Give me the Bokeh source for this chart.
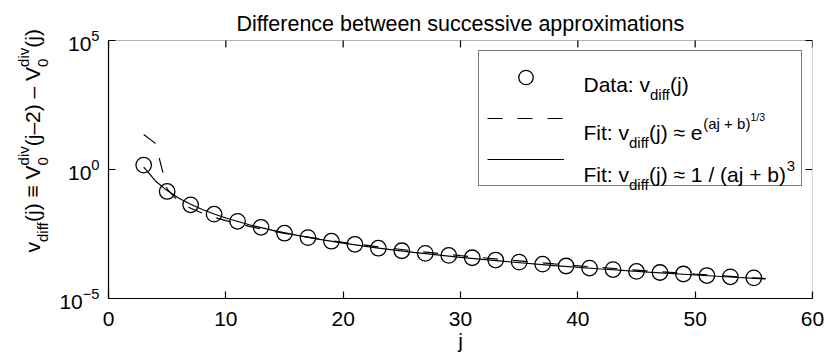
import math
from bokeh.plotting import figure
from bokeh.layouts import row
from bokeh.models import (FixedTicker, Label, Legend, LegendItem,
                          BoxAnnotation)
from bokeh.core.properties import value
from bokeh.embed import file_html
from bokeh.resources import INLINE

# ---------------- data ----------------
j_data = [3, 5, 7, 9, 11, 13, 15, 17, 19, 21, 23, 25, 27, 29, 31, 33, 35,
          37, 39, 41, 43, 45, 47, 49, 51, 53, 55]
v_data = [1.48, 0.141, 0.0427, 0.0186, 0.0098, 0.00575, 0.00339, 0.00229,
          0.00166, 0.00126, 0.000891, 0.000708, 0.000562, 0.000468,
          0.000380, 0.000309, 0.000257, 0.000214, 0.000182, 0.000151,
          0.000132, 0.000112, 0.000102, 0.0000891, 0.0000776, 0.0000692,
          0.0000631]

j_fit = [3, 4, 5, 6, 7, 8, 9, 10, 12, 14, 16, 18, 20, 23, 26, 30, 34, 38,
         42, 46, 50, 53, 56]
v_fit_exp = [22.9, 10.3, 0.174, 0.0574, 0.0316, 0.0203, 0.0142, 0.0104,
             0.00622, 0.00406, 0.00281, 0.00202, 0.00150, 0.00101,
             0.000703, 0.000457, 0.000312, 0.000219, 0.000158, 0.000117,
             0.0000881, 0.0000719, 0.0000593]
v_fit_pow = [1.23, 0.361, 0.152, 0.0774, 0.0448, 0.0281, 0.0188, 0.0132,
             0.00723, 0.00438, 0.00284, 0.00195, 0.00140, 0.000902,
             0.000614, 0.000394, 0.000267, 0.000189, 0.000139, 0.000105,
             0.0000815, 0.0000681, 0.0000575]

x_ticks = [0, 10, 20, 30, 40, 50, 60]
y_ticks = [1e-5, 1e0, 1e5]
title_text = "Difference between successive approximations"
x_label = "j"

# ---------------- layout & styling ----------------
FONT = "Liberation Sans"
F = 21.0      # main text size (px)
S = 15.0      # script size
SS = 10.5     # script-of-script size
SUB = -10.0   # subscript baseline shift
SUP = 9.0     # superscript baseline shift
WIDTH, HEIGHT = 827, 359
W_STRIP = 56                          # strip carrying the y-axis title
BOX_L, BOX_R, BOX_T, BOX_B = 108, 812, 40, 298   # axes box in pixels
TICK = 7                              # inward tick length in pixels
# the frame reaches the top of the page (title lives inside it), so the
# y range reaches above the last tick
_ylo, _yhi = math.log10(y_ticks[0]), math.log10(y_ticks[-1])
_dec_per_px = (_yhi - _ylo) / (BOX_B - BOX_T)
Y_TOP = 10 ** (_ylo + BOX_B * _dec_per_px)
_x_per_px = (x_ticks[-1] - x_ticks[0]) / (BOX_R - BOX_L)

# Arial / Liberation Sans advance widths (1/1000 em)
AW = {' ': 278, '(': 333, ')': 333, '+': 584, '/': 278, ':': 278,
      '\u2248': 584, '\u2261': 584, '\u2013': 556, '\u2212': 584,
      'a': 556, 'b': 556, 'c': 500, 'd': 556, 'e': 556, 'f': 278, 'i': 222,
      'j': 222, 'm': 833, 'n': 556, 'o': 556, 'p': 556, 'r': 333, 's': 500,
      't': 278, 'u': 556, 'v': 500, 'w': 722, 'x': 500, 'D': 722, 'F': 611,
      'V': 667}
for d in "0123456789":
    AW[d] = 556


def tw(s, px):
    return sum(AW.get(c, 556) for c in s) * px / 1000.0


def rich(fig, x, y, groups, dx, dy, vertical=False, align="left"):
    """Place a run of text pieces (with sub/superscripts) as Labels."""
    adv_list = [max(tw(t, s) for t, s, _ in g) for g in groups]
    total = sum(adv_list)
    adv = {"left": 0.0, "center": -total / 2, "right": -total}[align]
    for g, w in zip(groups, adv_list):
        for t, s, sh in g:
            lead = len(t) - len(t.lstrip(" "))
            off = adv + lead * AW[' '] * s / 1000.0
            kw = dict(x=x, y=y, x_units="data", y_units="data",
                      text=t.strip(" "), text_font=FONT,
                      text_font_size=f"{s:g}px", text_color="black",
                      text_align="left", text_baseline="alphabetic",
                      level="overlay")
            if vertical:
                lab = Label(x_offset=dx - sh, y_offset=dy + off,
                            angle=math.pi / 2, **kw)
            else:
                lab = Label(x_offset=dx + off, y_offset=dy + sh, **kw)
            fig.add_layout(lab)
        adv += w


# ---------------- main plot ----------------
p = figure(width=WIDTH - W_STRIP, height=HEIGHT, x_range=(0, 60),
           y_range=(y_ticks[0], Y_TOP), y_axis_type="log",
           output_backend="svg", toolbar_location=None, title=None,
           min_border_left=BOX_L - W_STRIP, min_border_right=WIDTH - BOX_R,
           min_border_top=0, min_border_bottom=HEIGHT - BOX_B)
p.background_fill_color = "white"
p.border_fill_color = "white"
p.outline_line_color = None
p.grid.visible = False

r_data = p.scatter(j_data, v_data, marker="circle", size=15.5,
                   fill_color=None, line_color="black", line_width=1.3)
r_exp = p.line(j_fit, v_fit_exp, line_color="black", line_width=1.2,
               line_dash="15 15")
r_pow = p.line(j_fit, v_fit_pow, line_color="black", line_width=1.2)


def style_axis(ax):
    ax.axis_line_color = "black"
    ax.axis_line_width = 1.2
    ax.major_tick_line_color = "black"
    ax.major_tick_line_width = 1.2
    ax.major_tick_in = TICK
    ax.major_tick_out = 0
    ax.minor_tick_line_color = None
    ax.major_label_text_font = FONT
    ax.major_label_text_color = "black"
    ax.major_label_text_font_size = f"{F:g}px"


p.xaxis.ticker = FixedTicker(ticks=x_ticks, minor_ticks=[])
style_axis(p.xaxis[0])
p.xaxis.major_label_standoff = 13
p.xaxis.axis_label = x_label
p.xaxis.axis_label_text_font = FONT
p.xaxis.axis_label_text_font_size = f"{F:g}px"
p.xaxis.axis_label_text_font_style = "normal"
p.xaxis.axis_label_text_color = "black"
p.xaxis.axis_label_standoff = 0

p.yaxis.ticker = FixedTicker(ticks=y_ticks, minor_ticks=[])
p.yaxis.bounds = (y_ticks[0], y_ticks[-1])
style_axis(p.yaxis[0])
p.yaxis.major_label_standoff = 9

# closed axes box with inward ticks on the top and right edges
p.add_layout(BoxAnnotation(left=x_ticks[0], right=x_ticks[-1],
                           bottom=y_ticks[0], top=y_ticks[-1],
                           fill_color=None, fill_alpha=0,
                           line_color="black", line_width=1.2))
top_tick_end = 10 ** (_yhi - TICK * _dec_per_px)
p.segment(x0=x_ticks, y0=[y_ticks[-1]] * len(x_ticks), x1=x_ticks,
          y1=[top_tick_end] * len(x_ticks), line_color="black",
          line_width=1.2)
right_tick_end = x_ticks[-1] - TICK * _x_per_px
p.segment(x0=[x_ticks[-1]] * len(y_ticks), y0=y_ticks,
          x1=[right_tick_end] * len(y_ticks), y1=y_ticks,
          line_color="black", line_width=1.2)

# title, inside the (taller) frame, above the axes box
rich(p, 30, y_ticks[-1], [[(title_text, 21.5, 0)]], 0, BOX_T - 23,
     align="center")

# legend: native box and sample glyphs, rich text placed over it
legend = Legend(items=[LegendItem(label=value(" "), renderers=[r_data]),
                       LegendItem(label=value(" "), renderers=[r_exp]),
                       LegendItem(label=value(" "), renderers=[r_pow])],
                location=(370, 112), padding=8, spacing=5, glyph_width=77,
                glyph_height=36, label_standoff=20, label_width=209,
                label_height=20, margin=0, border_line_color="black",
                border_line_width=1.2, background_fill_alpha=0.0,
                label_text_font=FONT)
p.add_layout(legend)

leg_rows = [
    [[("Data: v", F, 0)], [("diff", S, SUB)], [("(j)", F, 0)]],
    [[("Fit: v", F, 0)], [("diff", S, SUB)], [("(j) \u2248 e", F, 0)],
     [("(aj + b)", S, SUP)], [("1/3", SS, SUP + 7)]],
    [[("Fit: v", F, 0)], [("diff", S, SUB)],
     [("(j) \u2248 1 / (aj + b)", F, 0)], [("3", S, SUP)]],
]
leg_base = [84, 132, 174]   # text baselines, pixels from the top
for rw, base in zip(leg_rows, leg_base):
    rich(p, 0, y_ticks[-1], rw, 583 - BOX_L, BOX_T - base)

# ---------------- strip with the y-axis title ----------------
ystrip = figure(width=W_STRIP, height=HEIGHT, x_range=(0, W_STRIP),
                y_range=(0, HEIGHT), output_backend="svg",
                toolbar_location=None, title=None, min_border=0,
                x_axis_location=None, y_axis_location=None)
ystrip.outline_line_color = None
ystrip.grid.visible = False
ystrip.background_fill_color = "white"
ystrip.border_fill_color = "white"

ylab = [[("v", F, 0)], [("diff", S, SUB)], [("(j) \u2261 V", F, 0)],
        [("0", S, SUB), ("div", S, SUP)], [("(j\u20132) \u2013 V", F, 0)],
        [("0", S, SUB), ("div", S, SUP)], [("(j)", F, 0)]]
rich(ystrip, 32, HEIGHT - (BOX_T + BOX_B) / 2, ylab, 0, 0, vertical=True,
     align="center")

layout = row(ystrip, p, spacing=0)
open("out.html", "w").write(file_html(layout, INLINE))
